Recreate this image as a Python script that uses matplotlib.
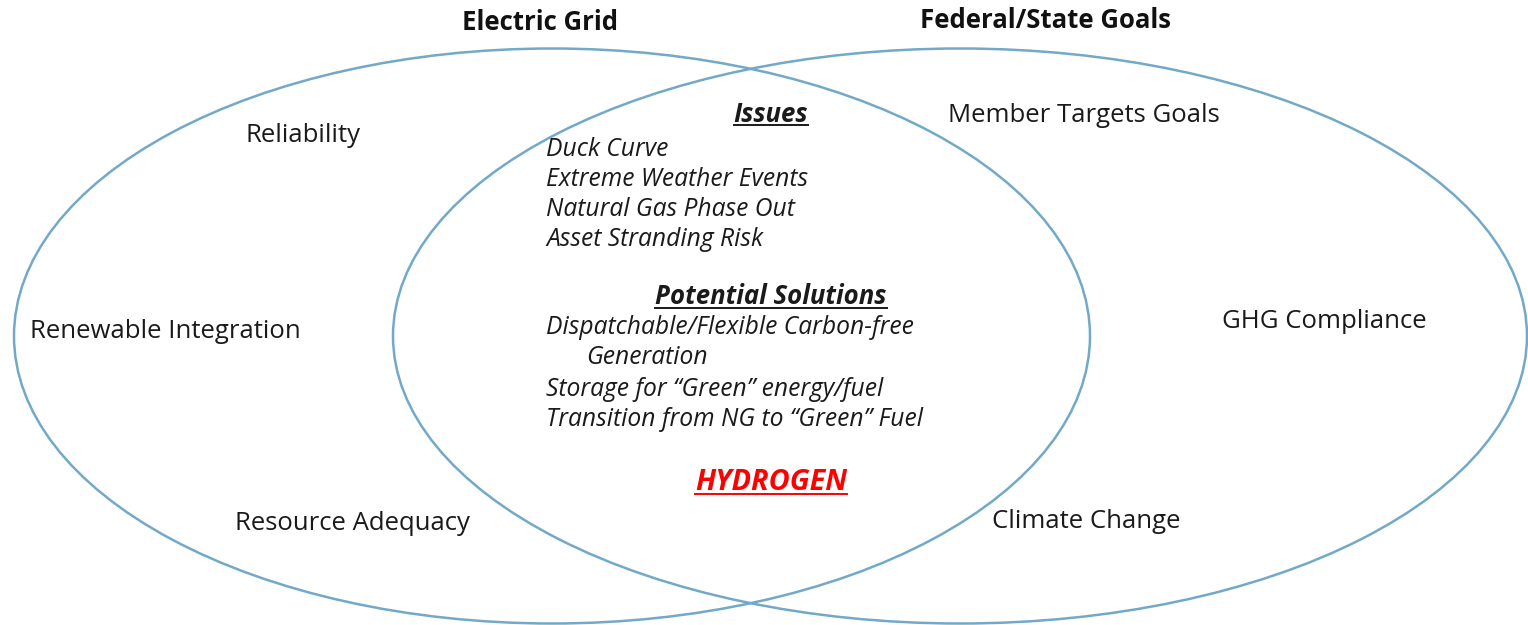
import matplotlib
matplotlib.use("Agg")
import matplotlib.pyplot as plt
from matplotlib.patches import Ellipse

plt.rcParams['font.family'] = ['Open Sans', 'DejaVu Sans']

# circles: name, center x, center y, width, height (pixel space of the picture)
circle_names = ["Electric Grid", "Federal/State Goals"]
circle_cx = [552, 960]
circle_cy = [336, 336]
circle_w = [1076, 1134]
circle_h = [575, 575]
title_x = [540, 1046]
title_y = [23, 21]

# plain labels in the outer parts
outer_labels = ["Reliability", "Renewable Integration", "Resource Adequacy",
                "Member Targets Goals", "GHG Compliance", "Climate Change"]
outer_x = [245, 30, 235, 948, 1222, 992]
outer_y = [135, 331, 524, 115, 322, 522]

# overlap section
issues = ["Duck Curve", "Extreme Weather Events", "Natural Gas Phase Out",
          "Asset Stranding Risk"]
issues_y = [149, 179, 209, 240]
solutions = ["Dispatchable/Flexible Carbon-free", "Generation",
             "Storage for \u201cGreen\u201d energy/fuel",
             "Transition from NG to \u201cGreen\u201d Fuel"]
solutions_x = [546, 586, 546, 546]
solutions_y = [328, 358, 389, 420]
headers = ["Issues", "Potential Solutions", "HYDROGEN"]
headers_y = [114, 297, 482]
header_sizes = [18.5, 18.5, 20.8]
header_colors = ["#1a1a1a", "#1a1a1a", "#ff0000"]

fig = plt.figure(figsize=(15.28, 6.25), dpi=100)
ax = fig.add_axes([0, 0, 1, 1])
ax.set_xlim(0, 1528)
ax.set_ylim(625, 0)
ax.axis("off")

for cx, cy, w, h in zip(circle_cx, circle_cy, circle_w, circle_h):
    ax.add_patch(Ellipse((cx, cy), w, h, fill=False, edgecolor="#72a9c8", lw=1.8))

for name, x, y in zip(circle_names, title_x, title_y):
    ax.text(x, y, name, ha="center", va="center", fontsize=18.5,
            fontweight="bold", color="#111111")

for lab, x, y in zip(outer_labels, outer_x, outer_y):
    ax.text(x, y, lab, ha="left", va="center", fontsize=18.5, color="#1a1a1a")

for lab, y in zip(issues, issues_y):
    ax.text(546, y, lab, ha="left", va="center", fontsize=17.7,
            style="italic", color="#1a1a1a")

for lab, x, y in zip(solutions, solutions_x, solutions_y):
    ax.text(x, y, lab, ha="left", va="center", fontsize=17.7,
            style="italic", color="#1a1a1a")

header_texts = []
for lab, y, s, c in zip(headers, headers_y, header_sizes, header_colors):
    t = ax.text(771, y, lab, ha="center", va="center", fontsize=s,
                style="italic", fontweight="bold", color=c)
    header_texts.append(t)

# underline headers
fig.canvas.draw()
renderer = fig.canvas.get_renderer()
inv = ax.transData.inverted()
for t, c in zip(header_texts, header_colors):
    bb = t.get_window_extent(renderer)
    (x0, y0), (x1, y1) = inv.transform([(bb.x0, bb.y0), (bb.x1, bb.y1)])
    ax.plot([x0, x1], [y0 - 3, y0 - 3], color=c, lw=1.4)

fig.savefig("out.png", dpi=100)
